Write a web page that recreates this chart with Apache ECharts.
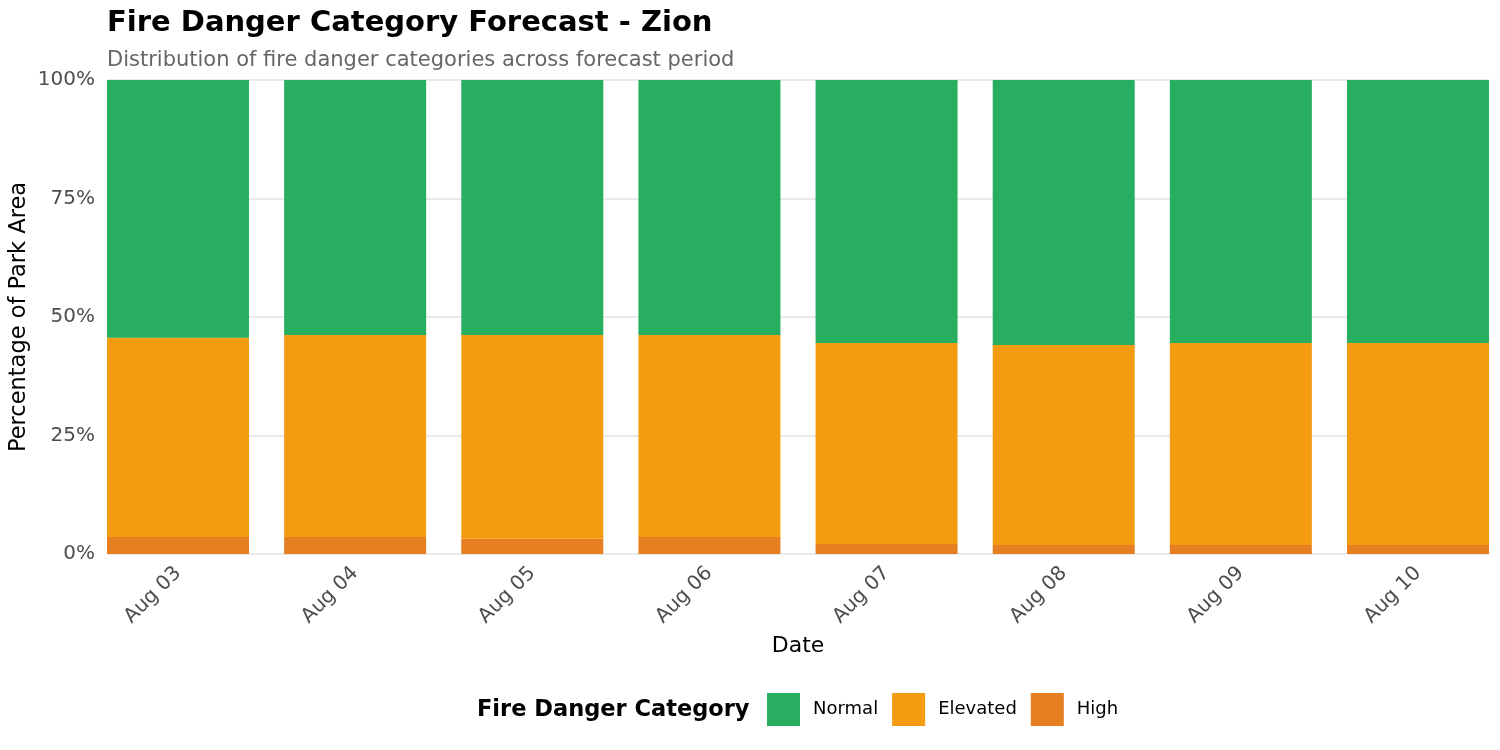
<!DOCTYPE html>
<html>
<head>
<meta charset="utf-8" />
<title>Fire Danger Category Forecast - Zion</title>
<script src="https://cdn.jsdelivr.net/npm/echarts@6/dist/echarts.min.js"></script>
<style>
  html, body { margin: 0; padding: 0; background: #fff; }
  #main { width: 1500px; height: 750px; }
</style>
</head>
<body>
<div id="main"></div>
<script type="text/javascript">
// dates on the x axis
var dates = ['Aug 03', 'Aug 04', 'Aug 05', 'Aug 06', 'Aug 07', 'Aug 08', 'Aug 09', 'Aug 10'];
// percentage of park area per category
var highPct = [3.6, 3.6, 3.2, 3.6, 2.1, 1.9, 1.9, 1.9];
var elevatedPct = [42.0, 42.6, 43.0, 42.6, 42.4, 42.2, 42.6, 42.6];
var normalPct = [54.4, 53.8, 53.8, 53.8, 55.5, 55.9, 55.5, 55.5];
var yTicks = [0, 25, 50, 75, 100];

var font = 'DejaVu Sans';
var chart = echarts.init(document.getElementById('main'));

// grid 0 holds the bars (categories sit on the edges like ggplot's expand = 0),
// grid 1 is the full panel that carries the y axis and its grid lines
var option = {
  animation: false,
  textStyle: { fontFamily: font },
  title: {
    text: 'Fire Danger Category Forecast - Zion',
    subtext: 'Distribution of fire danger categories across forecast period',
    left: 102,
    top: 4,
    itemGap: 12,
    textStyle: { fontFamily: font, fontSize: 29, fontWeight: 'bold', color: '#000' },
    subtextStyle: { fontFamily: font, fontSize: 21, color: '#666' }
  },
  legend: {
    data: ['Normal', 'Elevated', 'High'],
    left: 767,
    top: 693,
    padding: 0,
    itemWidth: 33,
    itemHeight: 33,
    itemGap: 14,
    icon: 'rect',
    textStyle: { fontFamily: font, fontSize: 18, color: '#000', padding: [0, 0, 0, 8] }
  },
  graphic: [{
    type: 'text',
    left: 477,
    top: 699,
    style: { text: 'Fire Danger Category', font: 'bold 22.5px "DejaVu Sans"', fill: '#000' }
  }],
  grid: [
    { left: 178, right: 82, top: 80, bottom: 196, outerBoundsMode: 'none' },
    { left: 107, right: 11, top: 80, bottom: 196, outerBoundsMode: 'none' }
  ],
  xAxis: [{
    type: 'category',
    gridIndex: 0,
    data: dates,
    boundaryGap: false,
    name: 'Date',
    nameLocation: 'middle',
    nameGap: 81,
    nameTextStyle: { fontFamily: font, fontSize: 22, color: '#000' },
    axisLine: { show: false },
    axisTick: { show: false },
    splitLine: { show: false },
    axisLabel: {
      rotate: 45,
      margin: 16,
      fontFamily: font,
      fontSize: 20,
      color: '#4d4d4d'
    }
  }, {
    type: 'value',
    gridIndex: 1,
    show: false
  }],
  yAxis: [{
    type: 'value',
    gridIndex: 0,
    min: yTicks[0],
    max: yTicks[yTicks.length - 1],
    interval: 25,
    show: false
  }, {
    type: 'value',
    gridIndex: 1,
    min: yTicks[0],
    max: yTicks[yTicks.length - 1],
    interval: 25,
    name: 'Percentage of Park Area',
    nameLocation: 'middle',
    nameGap: 76,
    nameMoveOverlap: false,
    nameTextStyle: { fontFamily: font, fontSize: 22.5, color: '#000' },
    axisLine: { show: false },
    axisTick: { show: false },
    axisLabel: { fontFamily: font, fontSize: 20, color: '#4d4d4d', margin: 12, formatter: '{value}%' },
    splitLine: { lineStyle: { color: '#e3e3e3', width: 1.5 } }
  }],
  series: [{
    name: 'High',
    type: 'bar',
    stack: 'total',
    barWidth: 142,
    clip: false,
    itemStyle: { color: '#E67E22' },
    data: highPct
  }, {
    name: 'Elevated',
    type: 'bar',
    stack: 'total',
    barWidth: 142,
    clip: false,
    itemStyle: { color: '#F39C12' },
    data: elevatedPct
  }, {
    name: 'Normal',
    type: 'bar',
    stack: 'total',
    barWidth: 142,
    clip: false,
    itemStyle: { color: '#27AE60' },
    data: normalPct
  }]
};
chart.setOption(option);
</script>
</body>
</html>
